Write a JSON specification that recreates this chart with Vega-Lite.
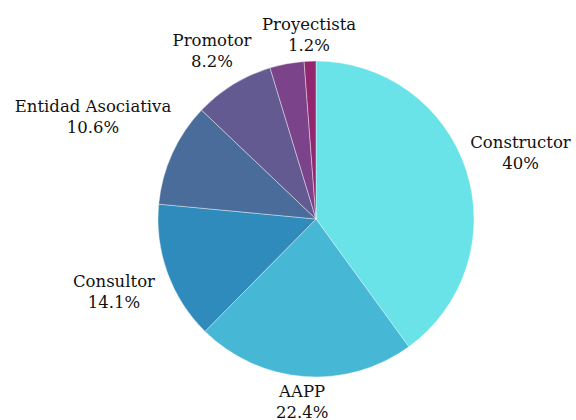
{
  "$schema": "https://vega.github.io/schema/vega-lite/v6.json",
  "width": 520,
  "height": 402,
  "padding": {"left": 56, "top": 18, "right": 0, "bottom": 0},
  "autosize": {"type": "none"},
  "background": "#ffffff",
  "config": {"view": {"stroke": null}},
  "data": {
    "values": [
      {"categoria": "Constructor", "valor": 40.0, "orden": 1, "pct": "40%", "grupo": "c"},
      {"categoria": "AAPP", "valor": 22.4, "orden": 2, "pct": "22.4%", "grupo": "a"},
      {"categoria": "Consultor", "valor": 14.1, "orden": 3, "pct": "14.1%", "grupo": "c"},
      {"categoria": "Entidad Asociativa", "valor": 10.6, "orden": 4, "pct": "10.6%", "grupo": "d"},
      {"categoria": "Promotor", "valor": 8.2, "orden": 5, "pct": "8.2%", "grupo": "b"},
      {"categoria": "Otros", "valor": 3.5, "orden": 6, "pct": "", "grupo": "n"},
      {"categoria": "Proyectista", "valor": 1.2, "orden": 7, "pct": "1.2%", "grupo": "a"}
    ]
  },
  "encoding": {
    "theta": {"field": "valor", "type": "quantitative", "stack": true},
    "order": {"field": "orden", "type": "quantitative"}
  },
  "layer": [
    {
      "mark": {"type": "arc", "outerRadius": 158, "stroke": "#ffffff", "strokeWidth": 0.4},
      "encoding": {
        "color": {
          "field": "categoria",
          "type": "nominal",
          "legend": null,
          "scale": {
            "domain": ["Constructor", "AAPP", "Consultor", "Entidad Asociativa", "Promotor", "Otros", "Proyectista"],
            "range": ["#6ae3e8", "#46b8d6", "#2e8bbc", "#4a6c9b", "#625a90", "#7b4389", "#92276f"]
          }
        }
      }
    },
    {
      "transform": [{"calculate": "datum.grupo == 'a' ? [datum.categoria, datum.pct] : ''", "as": "etiqueta"}],
      "mark": {"type": "text", "radius": 184, "dy": -10, "font": "DejaVu Serif", "fontSize": 16.5, "lineHeight": 21, "color": "#111111", "align": "center", "baseline": "middle"},
      "encoding": {"text": {"field": "etiqueta"}}
    },
    {
      "transform": [{"calculate": "datum.grupo == 'b' ? [datum.categoria, datum.pct] : ''", "as": "etiqueta"}],
      "mark": {"type": "text", "radius": 198, "dy": -10, "font": "DejaVu Serif", "fontSize": 16.5, "lineHeight": 21, "color": "#111111", "align": "center", "baseline": "middle"},
      "encoding": {"text": {"field": "etiqueta"}}
    },
    {
      "transform": [{"calculate": "datum.grupo == 'c' ? [datum.categoria, datum.pct] : ''", "as": "etiqueta"}],
      "mark": {"type": "text", "radius": 215, "dy": -10, "font": "DejaVu Serif", "fontSize": 16.5, "lineHeight": 21, "color": "#111111", "align": "center", "baseline": "middle"},
      "encoding": {"text": {"field": "etiqueta"}}
    },
    {
      "transform": [{"calculate": "datum.grupo == 'd' ? [datum.categoria, datum.pct] : ''", "as": "etiqueta"}],
      "mark": {"type": "text", "radius": 245, "dy": -10, "font": "DejaVu Serif", "fontSize": 16.5, "lineHeight": 21, "color": "#111111", "align": "center", "baseline": "middle"},
      "encoding": {"text": {"field": "etiqueta"}}
    }
  ]
}
